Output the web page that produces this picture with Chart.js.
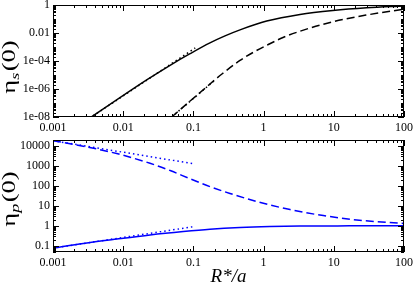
<!DOCTYPE html>
<html><head><meta charset="utf-8">
<script src="https://cdn.jsdelivr.net/npm/chart.js@4"></script>
<style>
body{margin:0;width:416px;height:286px;background:#fff;overflow:hidden;position:relative}
.w{position:absolute;left:0;width:416px}
</style>
</head><body>
<div class="w" style="top:0;height:135px"><canvas id="c1"></canvas></div>
<div class="w" style="top:135px;height:151px"><canvas id="c2"></canvas></div>
<script>
// ---- tick values and labels ----
const xTicks = [0.001, 0.01, 0.1, 1, 10, 100];
const xTickLabels = ['0.001', '0.01', '0.1', '1', '10', '100'];
const ySTicks = [1e-8, 1e-6, 1e-4, 1e-2, 1];
const ySTickLabels = ['1e-08', '1e-06', '1e-04', '0.01', '1'];
const yPTicks = [0.1, 1, 10, 100, 1000, 10000];
const yPTickLabels = ['0.1', '1', '10', '100', '1000', '10000'];

// ---- top panel: eta_s(0) ----
const rS_solid   = [0.0033, 0.0216, 0.0465, 0.0896, 0.172, 0.282, 0.461, 1.107, 3.3, 9.7, 29.4, 100];
const etaS_solid = [8e-9, 4.4e-6, 4.93e-5, 3.32e-4, 1.96e-3, 6.2e-3, 0.01665, 0.0708, 0.213, 0.411, 0.641, 0.865];
const rS_dashed   = [0.049, 0.146, 0.255, 0.461, 0.706, 1.107, 1.89, 3.3, 9.7, 29.4, 100];
const etaS_dashed = [1e-8, 1.12e-6, 1.18e-5, 1.09e-4, 4.05e-4, 1.32e-3, 4.77e-3, 0.01345, 0.064, 0.193, 0.5];
const rS_dot1   = [0.0033, 0.106];
const etaS_dot1 = [8.1e-9, 8.5e-4];
const rS_dot2   = [0.049, 0.2];
const etaS_dot2 = [1e-8, 4.1e-6];

// ---- bottom panel: eta_p(0) ----
const rP_dashed   = [0.001, 0.0027, 0.0081, 0.0241, 0.0477, 0.0896, 0.172, 0.332, 0.80, 2.38, 7.08, 21.2, 100];
const etaP_dashed = [18450, 9795, 4180, 1368, 577, 230, 93.5, 42.3, 16.8, 6.62, 3.32, 2.0, 1.33];
const rP_solid   = [0.001, 0.0027, 0.0081, 0.0241, 0.0718, 0.172, 0.461, 1.23, 3.3, 16.6, 100];
const etaP_solid = [0.0778, 0.1337, 0.222, 0.356, 0.526, 0.685, 0.834, 0.935, 0.99, 1.014, 1.026];
const rP_dotUp   = [0.001, 0.1];
const etaP_dotUp = [18450, 1300];
const rP_dotLow   = [0.001, 0.1];
const etaP_dotLow = [0.0778, 0.92];

const SERIF = "'Liberation Serif','Times New Roman',serif";
const pts = (xs, ys) => xs.map((x, i) => ({x, y: ys[i]}));

function ds(xs, ys, color, dash) {
  return {data: pts(xs, ys), borderColor: color, borderWidth: 1.5, borderDash: dash,
    pointRadius: 0, fill: false, cubicInterpolationMode: 'monotone'};
}

function fixTicks(values) {
  return s => { s.ticks = values.map(v => ({value: v})); };
}

function framePlugin(yMajor, yMinE, yMaxE) {
  return {
    id: 'frame',
    afterDraw(chart) {
      const {ctx, chartArea: a} = chart;
      const xs = chart.scales.x, ys = chart.scales.y;
      const L = a.left, R = a.right, T = a.top, B = a.bottom;
      ctx.save();
      ctx.strokeStyle = '#000';
      ctx.lineWidth = 1;
      ctx.beginPath();
      const isMaj = (arr, v) => arr.some(t => Math.abs(t / v - 1) < 1e-6);
      for (let e = -3; e <= 2; e++) for (let k = 1; k <= 9; k++) {
        const v = k * Math.pow(10, e);
        if (v < xs.min * 0.999 || v > xs.max * 1.001) continue;
        const len = isMaj(xTicks, v) ? 6 : 3;
        const p = Math.round(xs.getPixelForValue(v)) + 0.5;
        ctx.moveTo(p, B); ctx.lineTo(p, B - len);
        ctx.moveTo(p, T); ctx.lineTo(p, T + len);
      }
      for (let e = yMinE; e <= yMaxE; e++) for (let k = 1; k <= 9; k++) {
        const v = k * Math.pow(10, e);
        if (v < ys.min * 0.999 || v > ys.max * 1.001) continue;
        const len = isMaj(yMajor, v) ? 6 : 3;
        const p = Math.round(ys.getPixelForValue(v)) + 0.5;
        ctx.moveTo(L, p); ctx.lineTo(L + len, p);
        ctx.moveTo(R, p); ctx.lineTo(R - len, p);
      }
      ctx.stroke();
      ctx.strokeRect(L + 0.5, T + 0.5, R - L - 1, B - T - 1);
      ctx.restore();
    }
  };
}

function yTitlePlugin(sub, bx, cy) {
  return {
    id: 'ytitle',
    afterDraw(chart) {
      const ctx = chart.ctx;
      ctx.save();
      ctx.fillStyle = '#000';
      ctx.textBaseline = 'alphabetic';
      ctx.textAlign = 'left';
      const big = '19px ' + SERIF, small = 'italic 13px ' + SERIF;
      ctx.font = big; const w1 = ctx.measureText('\u03b7').width;
      ctx.font = small; const w2 = ctx.measureText(sub).width + 1;
      ctx.font = big; const w3 = ctx.measureText('(0)').width;
      const tot = w1 + w2 + w3;
      ctx.translate(bx, cy);
      ctx.rotate(-Math.PI / 2);
      ctx.scale(1.4, 1);
      let u = -tot / 2;
      ctx.font = big; ctx.fillText('\u03b7', u, 0); u += w1;
      ctx.font = small; ctx.fillText(sub, u, 4); u += w2;
      ctx.font = big; ctx.fillText('(0)', u, 0);
      ctx.restore();
    }
  };
}

const xTitlePlugin = {
  id: 'xtitle',
  afterDraw(chart) {
    const ctx = chart.ctx;
    ctx.save();
    ctx.fillStyle = '#000';
    ctx.font = 'italic 19px ' + SERIF;
    ctx.textAlign = 'center';
    ctx.textBaseline = 'alphabetic';
    const a = chart.chartArea;
    ctx.fillText('R*/a', (a.left + a.right) / 2, 147);
    ctx.restore();
  }
};

function makeOptions(yMin, yMax, yT, yL, xAxisH) {
  return {
    responsive: true, maintainAspectRatio: false, animation: false, devicePixelRatio: 1,
    layout: {padding: {top: 5, right: 12, left: 0, bottom: 0}},
    plugins: {legend: {display: false}, tooltip: {enabled: false}, title: {display: false}},
    scales: {
      x: {
        type: 'logarithmic', min: 0.001, max: 100,
        grid: {display: false, drawTicks: false}, border: {display: false},
        afterBuildTicks: fixTicks(xTicks),
        afterFit: s => { s.height = xAxisH; s.paddingLeft = 0; s.paddingRight = 0; },
        ticks: {autoSkip: false, maxRotation: 0, padding: 4, color: '#000',
          font: {family: SERIF, size: 12},
          callback: (v, i) => xTickLabels[i]}
      },
      y: {
        type: 'logarithmic', min: yMin, max: yMax,
        grid: {display: false, drawTicks: false}, border: {display: false},
        afterBuildTicks: fixTicks(yT),
        afterFit: s => { s.width = 53; s.paddingTop = 0; s.paddingBottom = 0; },
        ticks: {autoSkip: false, padding: 3, color: '#000',
          font: {family: SERIF, size: 12},
          callback: (v, i) => yL[i]}
      }
    }
  };
}

new Chart(document.getElementById('c1'), {
  type: 'line',
  data: {datasets: [
    ds(rS_dot1, etaS_dot1, '#000', [1.5, 3]),
    ds(rS_dot2, etaS_dot2, '#000', [1.5, 3]),
    ds(rS_solid, etaS_solid, '#000', []),
    ds(rS_dashed, etaS_dashed, '#000', [8, 4])
  ]},
  options: makeOptions(1e-8, 1, ySTicks, ySTickLabels, 18),
  plugins: [framePlugin(ySTicks, -8, -1), yTitlePlugin('s', 15, 67)]
});

new Chart(document.getElementById('c2'), {
  type: 'line',
  data: {datasets: [
    ds(rP_dotUp, etaP_dotUp, '#0000ff', [1.5, 3]),
    ds(rP_dotLow, etaP_dotLow, '#0000ff', [1.5, 3]),
    ds(rP_solid, etaP_solid, '#0000ff', []),
    ds(rP_dashed, etaP_dashed, '#0000ff', [8, 4])
  ]},
  options: makeOptions(0.05, 20000, yPTicks, yPTickLabels, 34),
  plugins: [framePlugin(yPTicks, -2, 4), yTitlePlugin('p', 15, 64), xTitlePlugin]
});
</script>
</body></html>
